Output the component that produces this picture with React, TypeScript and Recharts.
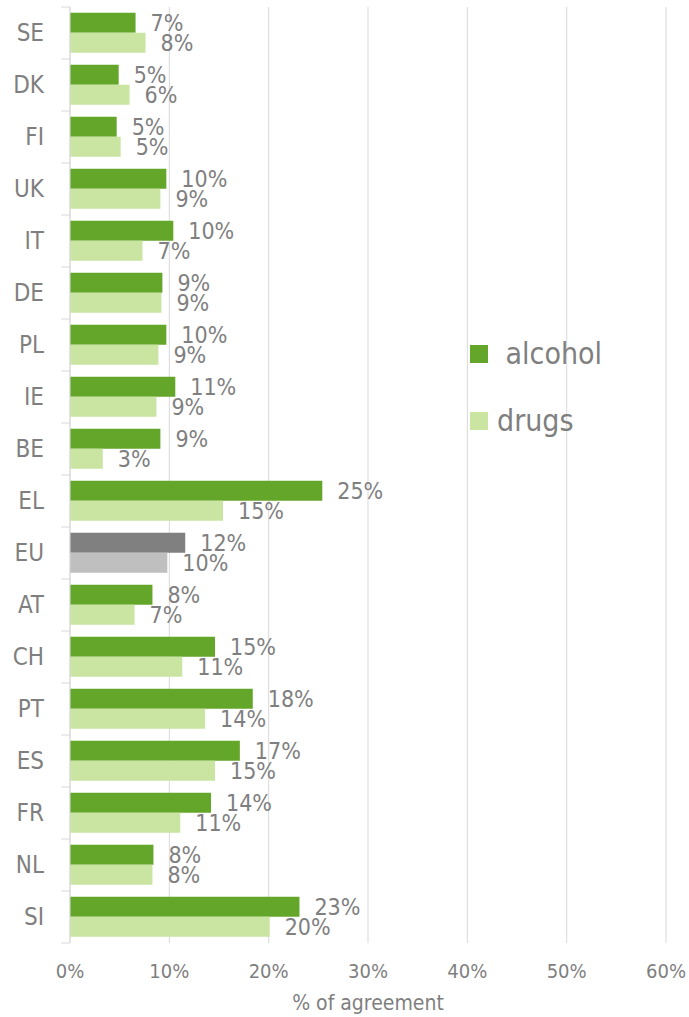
import React from 'react';
import { BarChart, Bar, XAxis, YAxis, CartesianGrid, LabelList, Cell, Legend } from 'recharts';

const countries = ['SE', 'DK', 'FI', 'UK', 'IT', 'DE', 'PL', 'IE', 'BE', 'EL', 'EU', 'AT', 'CH', 'PT', 'ES', 'FR', 'NL', 'SI'];
const alcohol = [6.6, 4.9, 4.7, 9.7, 10.4, 9.3, 9.7, 10.6, 9.1, 25.4, 11.6, 8.3, 14.6, 18.4, 17.1, 14.2, 8.4, 23.1];
const drugs = [7.6, 6.0, 5.1, 9.1, 7.3, 9.2, 8.9, 8.7, 3.3, 15.4, 9.8, 6.5, 11.3, 13.6, 14.6, 11.1, 8.3, 20.1];
const xTicks = [0, 10, 20, 30, 40, 50, 60];
const seriesNames = [' alcohol', 'drugs'];
const highlightCountry = 'EU';

const FONT = '"DejaVu Sans Condensed", "DejaVu Sans", Verdana, sans-serif';
const STRETCH = { fontStretch: 'condensed' as const };
const TEXT = '#7f7f7f';
const GRID = '#d9d9d9';
const ALC = '#63a62a';
const DRG = '#c9e5a1';
const ALC_EU = '#808080';
const DRG_EU = '#bfbfbf';

const W = 689;
const H = 1017;
const M = { top: 7, right: 23, bottom: 0, left: 0 };
const YW = 70;
const XH = 74;
const BAND = (H - M.top - M.bottom - XH) / countries.length;

const data = countries.map((c, i) => ({ country: c, alcohol: alcohol[i], drugs: drugs[i] }));

const pct = (v: any) => `${Math.round(Number(v))}%`;

const CategoryTick = (props: any) => {
  const { x, y, payload, index, visibleTicksCount } = props;
  const half = BAND / 2;
  return (
    <g>
      <text x={x - 26} y={y} textAnchor="end" dominantBaseline="central" fontFamily={FONT} fontSize={24} fill={TEXT} style={STRETCH}>
        {payload.value}
      </text>
      <line x1={x - 9} x2={x} y1={y - half} y2={y - half} stroke={GRID} strokeWidth={1} />
      {index === visibleTicksCount - 1 && (
        <line x1={x - 9} x2={x} y1={y + half} y2={y + half} stroke={GRID} strokeWidth={1} />
      )}
    </g>
  );
};

const LegendContent = () => (
  <div style={{ fontFamily: FONT, color: TEXT, ...STRETCH }}>
    {seriesNames.map((n, i) => (
      <div key={n} style={{ display: 'flex', alignItems: 'center', height: 67 }}>
        <span style={{ display: 'inline-block', width: 18, height: 18, background: i === 0 ? ALC : DRG, marginRight: 9 }} />
        <span style={{ fontSize: 30, whiteSpace: 'pre', lineHeight: 1 }}>{n}</span>
      </div>
    ))}
  </div>
);

export default function App() {
  return (
    <div style={{ position: 'absolute', left: 0, top: 0, width: W, height: H, background: '#fff' }}>
      <BarChart
        width={W}
        height={H}
        data={data}
        layout="vertical"
        margin={M}
        barCategoryGap="11%"
        barGap={0}
      >
        <CartesianGrid horizontal={false} stroke={GRID} />
        <XAxis
          type="number"
          domain={[0, 60]}
          ticks={xTicks}
          tickFormatter={(v: any) => `${v}%`}
          axisLine={false}
          tickLine={false}
          tickSize={5}
          tickMargin={16}
          height={XH}
          tick={{ fontFamily: FONT, fontSize: 20, fill: TEXT, style: STRETCH }}
          interval={0}
          label={{ value: '% of agreement', position: 'insideBottom', offset: 7, fontFamily: FONT, fontSize: 21, fill: TEXT, style: STRETCH }}
        />
        <YAxis
          type="category"
          dataKey="country"
          width={YW}
          axisLine={{ stroke: GRID }}
          tickLine={false}
          tickSize={0}
          tickMargin={0}
          interval={0}
          tick={<CategoryTick />}
        />
        <Legend
          layout="vertical"
          align="center"
          verticalAlign="middle"
          wrapperStyle={{ left: 470, top: 320, width: 210 }}
          content={<LegendContent />}
        />
        <Bar dataKey="alcohol" name={seriesNames[0]} fill={ALC} isAnimationActive={false}>
          {data.map((d) => (
            <Cell key={d.country} fill={d.country === highlightCountry ? ALC_EU : ALC} />
          ))}
          <LabelList dataKey="alcohol" position="right" offset={15} formatter={pct} fontFamily={FONT} fontSize={23} fill={TEXT} style={STRETCH} />
        </Bar>
        <Bar dataKey="drugs" name={seriesNames[1]} fill={DRG} isAnimationActive={false}>
          {data.map((d) => (
            <Cell key={d.country} fill={d.country === highlightCountry ? DRG_EU : DRG} />
          ))}
          <LabelList dataKey="drugs" position="right" offset={15} formatter={pct} fontFamily={FONT} fontSize={23} fill={TEXT} style={STRETCH} />
        </Bar>
      </BarChart>
    </div>
  );
}
